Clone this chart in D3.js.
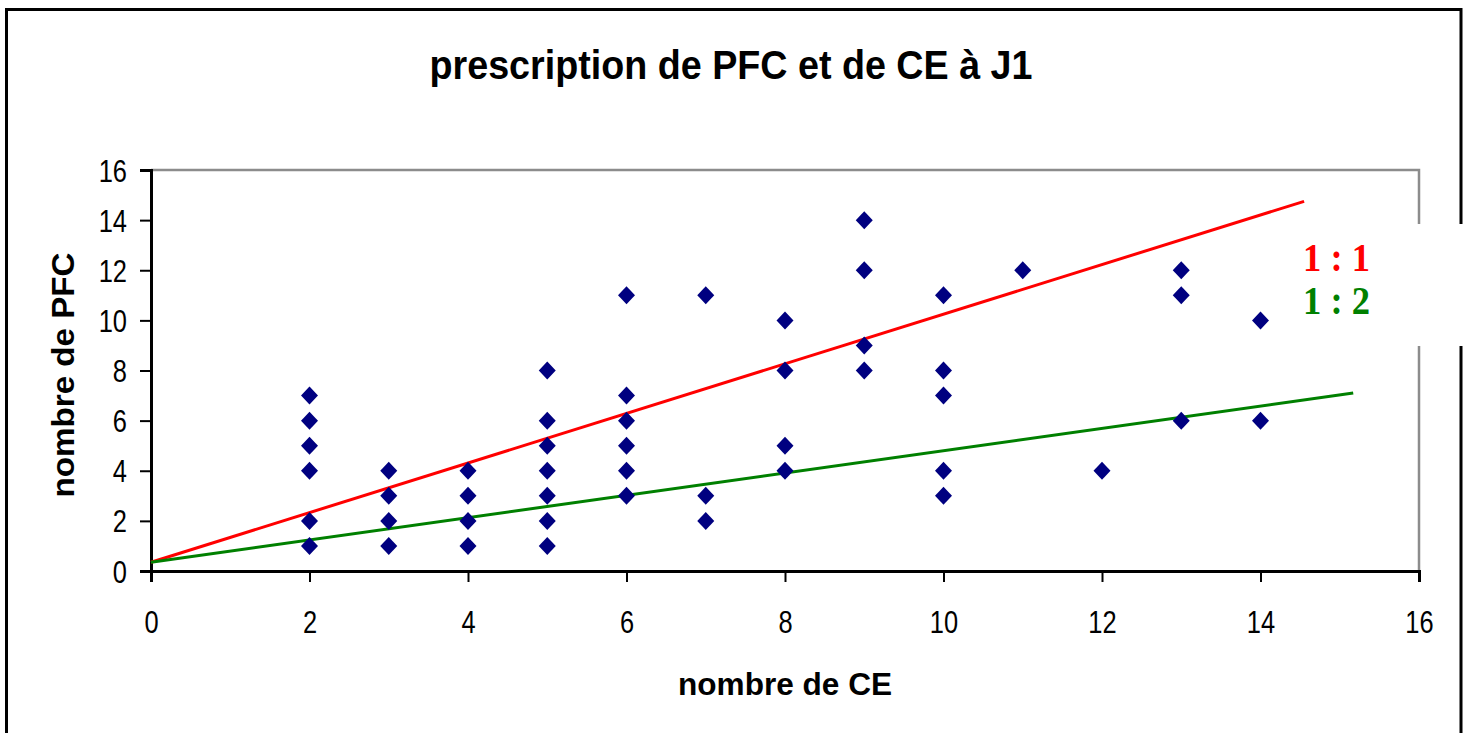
<!DOCTYPE html>
<html>
<head>
<meta charset="utf-8">
<script src="https://cdn.jsdelivr.net/npm/d3@7"></script>
<style>
  html, body { margin: 0; padding: 0; background: #fff; }
  svg { display: block; }
</style>
</head>
<body>
<svg id="chart" width="1469" height="733"></svg>
<script>
// ---- data ----
const chartTitle = "prescription de PFC et de CE à J1";
const xTitle = "nombre de CE";
const yTitle = "nombre de PFC";
const xTicks = [0, 2, 4, 6, 8, 10, 12, 14, 16];
const yTicks = [0, 2, 4, 6, 8, 10, 12, 14, 16];
const ceValues  = [2,2,2,2,2,2, 3,3,3,3, 4,4,4,4, 5,5,5,5,5,5,5, 6,6,6,6,6,6, 7,7,7, 8,8,8,8, 9,9,9,9, 10,10,10,10,10, 11, 12, 13,13,13, 14,14];
const pfcValues = [7,6,5,4,2,1, 4,3,2,1, 4,3,2,1, 8,6,5,4,3,2,1, 11,7,6,5,4,3, 11,3,2, 10,8,5,4, 14,12,9,8, 11,8,7,4,3, 12, 4, 12,11,6, 10,6];
const lineNames = ["1 : 1", "1 : 2"];
const lineStart = [[0, 0.35], [0, 0.35]];
const lineEnd   = [[14.55, 14.75], [15.17, 7.1]];

// ---- styles / layout ----
const lineColors = ["#ff0000", "#008000"];
const markerColor = "#000080";
const plot = { left: 151, right: 1419, top: 170, bottom: 571 };

const svg = d3.select("#chart");
const x = d3.scaleLinear().domain([0, 16]).range([plot.left, plot.right]);
const y = d3.scaleLinear().domain([0, 16]).range([plot.bottom, plot.top]);

function squeeze(sel, target) {
  sel.each(function() {
    const len = this.getComputedTextLength();
    const t = typeof target === "function" ? target(len) : target;
    d3.select(this).attr("textLength", t).attr("lengthAdjust", "spacingAndGlyphs");
  });
}

// outer frame (no bottom edge visible)
svg.append("path")
  .attr("d", `M6.5,733 L6.5,9.5 L1461,9.5 L1461,733`)
  .attr("fill", "none").attr("stroke", "#000").attr("stroke-width", 3);

// title
svg.append("text")
  .attr("x", 731).attr("y", 79)
  .attr("text-anchor", "middle")
  .attr("font-family", "Liberation Sans, Arial, sans-serif")
  .attr("font-weight", "bold").attr("font-size", 41)
  .text(chartTitle)
  .call(squeeze, 603);

// plot area top/right border (gray)
svg.append("path")
  .attr("d", `M${plot.left},${plot.top} L${plot.right},${plot.top} L${plot.right},${plot.bottom}`)
  .attr("fill", "none").attr("stroke", "#8c8c8c").attr("stroke-width", 2.5);

// axes
const xAxis = d3.axisBottom(x).tickValues(xTicks).tickSize(11).tickPadding(28).tickFormat(d3.format("d"));
const yAxis = d3.axisLeft(y).tickValues(yTicks).tickSize(11).tickPadding(13).tickFormat(d3.format("d"));

const gx = svg.append("g").attr("transform", `translate(0,${plot.bottom})`).call(xAxis);
const gy = svg.append("g").attr("transform", `translate(${plot.left},0)`).call(yAxis);

[gx, gy].forEach(g => {
  g.select(".domain").attr("stroke", "#000").attr("stroke-width", 3);
  g.selectAll(".tick line").attr("stroke", "#000").attr("stroke-width", 2);
  g.selectAll(".tick text")
    .attr("fill", "#000")
    .attr("font-family", "Liberation Sans, Arial, sans-serif")
    .attr("font-size", 31);
});
gx.selectAll(".tick text").attr("dy", null).attr("y", 62);
gy.selectAll(".tick text").attr("dy", null).attr("y", 11);
gx.selectAll(".tick text").call(squeeze, len => len * 0.82);
gy.selectAll(".tick text").call(squeeze, len => len * 0.82);

// axis titles
svg.append("text")
  .attr("x", 785).attr("y", 695)
  .attr("text-anchor", "middle")
  .attr("font-family", "Liberation Sans, Arial, sans-serif")
  .attr("font-weight", "bold").attr("font-size", 31)
  .text(xTitle)
  .call(squeeze, 214);

svg.append("text")
  .attr("transform", "translate(74,375) rotate(-90)")
  .attr("text-anchor", "middle")
  .attr("font-family", "Liberation Sans, Arial, sans-serif")
  .attr("font-weight", "bold").attr("font-size", 31)
  .text(yTitle)
  .call(squeeze, 245);

// reference lines
svg.append("g").selectAll("line")
  .data(lineNames.map((n, i) => ({ n, i })))
  .join("line")
  .attr("x1", d => x(lineStart[d.i][0])).attr("y1", d => y(lineStart[d.i][1]))
  .attr("x2", d => x(lineEnd[d.i][0])).attr("y2", d => y(lineEnd[d.i][1]))
  .attr("stroke", d => lineColors[d.i]).attr("stroke-width", 3);

// markers
const diamond = "M0,-9 L8.5,0 L0,9 L-8.5,0 Z";
svg.append("g").selectAll("path")
  .data(ceValues.map((c, i) => [c, pfcValues[i]]))
  .join("path")
  .attr("d", diamond)
  .attr("transform", d => `translate(${x(d[0])},${y(d[1])})`)
  .attr("fill", markerColor);

// legend box (white, covers borders)
svg.append("rect")
  .attr("x", 1285).attr("y", 224).attr("width", 184).attr("height", 122)
  .attr("fill", "#fff");

const legendY = [271, 314];
svg.append("g").selectAll("text")
  .data(lineNames.map((n, i) => ({ n, i })))
  .join("text")
  .attr("x", 1303).attr("y", d => legendY[d.i])
  .attr("font-family", "Liberation Serif, Times New Roman, serif")
  .attr("font-weight", "bold").attr("font-size", 41)
  .attr("fill", d => lineColors[d.i])
  .text(d => d.n)
  .call(squeeze, 67);
</script>
</body>
</html>
